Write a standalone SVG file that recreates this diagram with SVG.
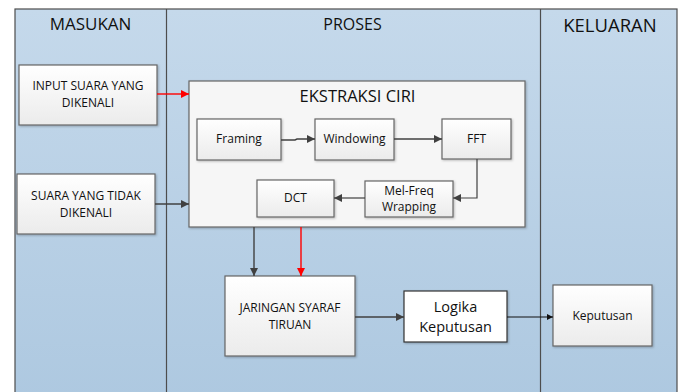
<svg xmlns="http://www.w3.org/2000/svg" width="683" height="392" viewBox="0 0 683 392">
<defs>
<linearGradient id="bg" x1="0" y1="0" x2="0" y2="1">
<stop offset="0" stop-color="#c5d9eb"/>
<stop offset="1" stop-color="#adc8e0"/>
</linearGradient>
<linearGradient id="box" x1="0" y1="0" x2="0" y2="1">
<stop offset="0" stop-color="#ffffff"/>
<stop offset="1" stop-color="#ebebeb"/>
</linearGradient>
<filter id="sh" x="-10%" y="-10%" width="130%" height="130%">
<feDropShadow dx="1" dy="1" stdDeviation="0.8" flood-color="#000" flood-opacity="0.25"/>
</filter>
<marker id="ah" viewBox="0 0 10 10" refX="10" refY="5" markerWidth="10" markerHeight="8" markerUnits="userSpaceOnUse" orient="auto">
<path d="M0,0 L10,5 L0,10 z" fill="#404040"/>
</marker>
<marker id="ahr" viewBox="0 0 10 10" refX="10" refY="5" markerWidth="10" markerHeight="8" markerUnits="userSpaceOnUse" orient="auto">
<path d="M0,0 L10,5 L0,10 z" fill="#ff0000"/>
</marker>
<marker id="ahs" viewBox="0 0 10 10" refX="10" refY="5" markerWidth="7" markerHeight="6" markerUnits="userSpaceOnUse" orient="auto">
<path d="M0,0 L10,5 L0,10 z" fill="#111"/>
</marker>
</defs>
<style>
text{font-family:"Open Sans","Liberation Sans",sans-serif;fill:#111;text-anchor:middle}
.node rect{fill:url(#box);stroke:#666;stroke-width:1.2;filter:url(#sh)}
.hdr{font-size:17px}
.sm{font-size:12px}
.md{font-size:12px}
.lg{font-size:14.5px}
.conn line,.conn polyline{fill:none;stroke:#404040;stroke-width:1.4}
.red{stroke:#ff0000 !important}
</style>
<g id="lanes">
<rect x="15" y="9" width="662" height="400" fill="url(#bg)" stroke="#4d4d4d" stroke-width="1.2"/>
<line x1="166.5" y1="9" x2="166.5" y2="392" stroke="#4d4d4d" stroke-width="1.2"/>
<line x1="540.5" y1="9" x2="540.5" y2="392" stroke="#4d4d4d" stroke-width="1.2"/>
<text class="hdr" x="90.5" y="30">MASUKAN</text>
<text class="hdr" x="352.5" y="30" style="font-size:16px">PROSES</text>
<text class="hdr" x="610" y="32" style="font-size:18.5px">KELUARAN</text>
</g>
<g id="input-dikenali" class="node">
<rect x="19" y="65" width="138" height="60"/>
<text class="sm" x="88" y="90">INPUT SUARA YANG</text>
<text class="sm" x="88" y="107">DIKENALI</text>
</g>
<g id="suara-tidak" class="node">
<rect x="17" y="174" width="138" height="60"/>
<text class="sm" x="86" y="200">SUARA YANG TIDAK</text>
<text class="sm" x="86" y="217">DIKENALI</text>
</g>
<g id="ekstraksi" class="node">
<rect x="189" y="81" width="336" height="146" style="fill:#f6f6f6"/>
<text x="357.5" y="102" style="font-size:16.5px">EKSTRAKSI CIRI</text>
</g>
<g id="framing" class="node">
<rect x="197" y="119" width="84" height="41"/>
<text class="md" x="239" y="143">Framing</text>
</g>
<g id="windowing" class="node">
<rect x="315" y="119" width="79" height="41"/>
<text class="md" x="354.5" y="143">Windowing</text>
</g>
<g id="fft" class="node">
<rect x="442" y="119" width="69" height="40"/>
<text class="md" x="476.5" y="143">FFT</text>
</g>
<g id="dct" class="node">
<rect x="257" y="180" width="77" height="37"/>
<text class="md" x="295.5" y="202">DCT</text>
</g>
<g id="melfreq" class="node">
<rect x="365" y="181" width="88" height="36"/>
<text class="md" x="409" y="195">Mel-Freq</text>
<text class="md" x="409" y="211">Wrapping</text>
</g>
<g id="jst" class="node">
<rect x="225" y="276" width="130" height="80"/>
<text class="sm" x="290" y="312">JARINGAN SYARAF</text>
<text class="sm" x="290" y="329">TIRUAN</text>
</g>
<g id="logika" class="node">
<rect x="404" y="291" width="103" height="51" style="fill:#fff;stroke:#333"/>
<text class="lg" x="455.5" y="312">Logika</text>
<text class="lg" x="455.5" y="332">Keputusan</text>
</g>
<g id="keputusan" class="node">
<rect x="553" y="285" width="99" height="61"/>
<text class="md" x="602.5" y="320">Keputusan</text>
</g>
<g id="connectors" class="conn">
<line class="red" x1="157" y1="94" x2="189" y2="94" marker-end="url(#ahr)"/>
<line x1="155" y1="204" x2="189" y2="204" marker-end="url(#ah)"/>
<polyline points="281,140 295,140 297,139 315,139" marker-end="url(#ah)"/>
<line x1="394" y1="139" x2="442" y2="139" marker-end="url(#ah)"/>
<polyline points="477,159 477,198 453,198" marker-end="url(#ah)" style="stroke-width:1.2"/>
<line x1="365" y1="198" x2="334" y2="198" marker-end="url(#ah)" style="stroke-width:1.2"/>
<line x1="254" y1="227" x2="254" y2="276" marker-end="url(#ah)"/>
<line class="red" x1="301" y1="227" x2="301" y2="276" marker-end="url(#ahr)"/>
<line x1="355" y1="317" x2="404" y2="317" marker-end="url(#ah)"/>
<line x1="507" y1="317" x2="553" y2="317" marker-end="url(#ahs)" style="stroke:#111;stroke-width:1"/>
</g>
</svg>
